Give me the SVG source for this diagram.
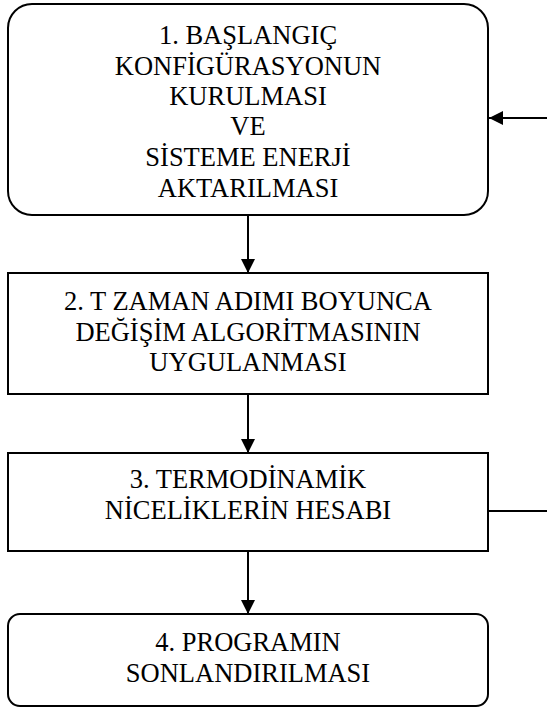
<svg xmlns="http://www.w3.org/2000/svg" width="547" height="708" viewBox="0 0 547 708">
  <defs>
    <marker id="arrow" viewBox="0 0 14 14" refX="14" refY="7" markerWidth="14" markerHeight="14" markerUnits="userSpaceOnUse" orient="auto">
      <path d="M0,0 L14,7 L0,14 Z" fill="#000"/>
    </marker>
    <style>
      .box { fill: #fff; stroke: #000; stroke-width: 2; }
      .label { font-family: "Liberation Serif", "Times New Roman", serif; font-size: 26.5px; fill: #000; text-anchor: middle; }
      .conn { stroke: #000; stroke-width: 2; fill: none; }
    </style>
  </defs>
  <rect width="547" height="708" fill="#fff"/>

  <g id="connectors">
    <line class="conn" x1="248" y1="215" x2="248" y2="273" marker-end="url(#arrow)"/>
    <line class="conn" x1="248" y1="394" x2="248" y2="453" marker-end="url(#arrow)"/>
    <line class="conn" x1="248" y1="551" x2="248" y2="614" marker-end="url(#arrow)"/>
    <line class="conn" x1="547" y1="118" x2="489" y2="118" marker-end="url(#arrow)"/>
    <line class="conn" x1="488" y1="511" x2="547" y2="511"/>
  </g>

  <g id="node1">
    <rect class="box" x="8" y="4" width="480" height="211" rx="24" ry="24"/>
    <text class="label" x="248" y="44">1. BAŞLANGIÇ</text>
    <text class="label" x="248" y="75">KONFİGÜRASYONUN</text>
    <text class="label" x="248" y="105">KURULMASI</text>
    <text class="label" x="248" y="135">VE</text>
    <text class="label" x="248" y="166">SİSTEME ENERJİ</text>
    <text class="label" x="248" y="197">AKTARILMASI</text>
  </g>

  <g id="node2">
    <rect class="box" x="8" y="273" width="480" height="121"/>
    <text class="label" x="248" y="310">2. T ZAMAN ADIMI BOYUNCA</text>
    <text class="label" x="248" y="341">DEĞİŞİM ALGORİTMASININ</text>
    <text class="label" x="248" y="371">UYGULANMASI</text>
  </g>

  <g id="node3">
    <rect class="box" x="8" y="453" width="480" height="98"/>
    <text class="label" x="248" y="488">3. TERMODİNAMİK</text>
    <text class="label" x="248" y="519">NİCELİKLERİN HESABI</text>
  </g>

  <g id="node4">
    <rect class="box" x="8" y="614" width="480" height="92" rx="12" ry="12"/>
    <text class="label" x="248" y="651">4. PROGRAMIN</text>
    <text class="label" x="248" y="682">SONLANDIRILMASI</text>
  </g>
</svg>
